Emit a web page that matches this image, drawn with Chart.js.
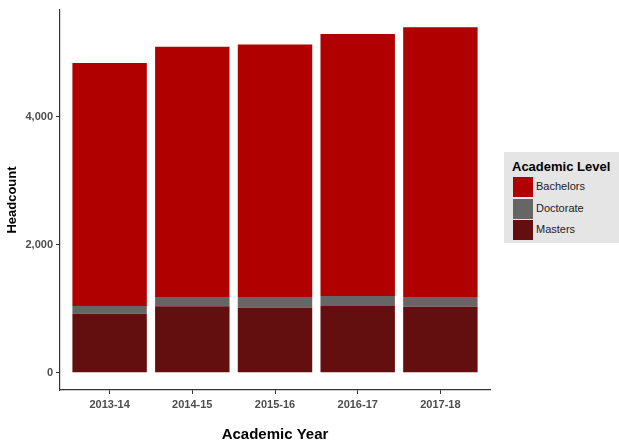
<!DOCTYPE html>
<html>
<head>
<meta charset="utf-8">
<script src="https://cdn.jsdelivr.net/npm/chart.js@4/dist/chart.umd.min.js"></script>
<style>
    body { margin: 0; background: #fff; font-family: "Liberation Sans", Arial, sans-serif; }
    #wrap { position: relative; width: 619px; height: 440px; }
    #legend { position: absolute; left: 504px; top: 152px; width: 115px; height: 91px; background: #e5e5e5; }
    #legend .ttl { position: absolute; left: 8px; top: 7px; font-size: 13px; font-weight: bold; color: #000; white-space: nowrap; }
    #legend .row { position: absolute; left: 9px; height: 20px; }
    #legend .key { position: absolute; left: 0; top: 0; width: 20px; height: 20px; }
    #legend .lbl { position: absolute; left: 23px; top: 3px; font-size: 11px; color: #222; white-space: nowrap; }
</style>
</head>
<body>
<div id="wrap">
    <canvas id="enrollChart" width="619" height="440"></canvas>
    <div id="legend"></div>
</div>
<script>
var years = ["2013-14", "2014-15", "2015-16", "2016-17", "2017-18"];
var masters = [920, 1040, 1020, 1045, 1030];
var doctorate = [125, 145, 165, 155, 155];
var bachelors = [3795, 3910, 3945, 4095, 4215];
var yTicks = [0, 2000, 4000];

var levels = ["Bachelors", "Doctorate", "Masters"];
var levelColors = ["#b00000", "#666666", "#640f0f"];

function toPoints(values) {
    return values.map(function (v, i) { return { x: i, y: v }; });
}

// legend (Bachelors on top, like ggplot)
var legendHtml = '<div class="ttl">Academic Level</div>';
for (var i = 0; i < levels.length; i++) {
    legendHtml += '<div class="row" style="top:' + (25 + i * 21.5) + 'px">' +
        '<div class="key" style="background:' + levelColors[i] + '"></div>' +
        '<div class="lbl">' + levels[i] + '</div></div>';
}
document.getElementById("legend").innerHTML = legendHtml;

// y range with ggplot's 5% expansion
var maxTotal = Math.max.apply(null, years.map(function (y, i) {
    return masters[i] + doctorate[i] + bachelors[i];
}));
var pad = maxTotal * 0.05;

new Chart("enrollChart", {
    type: "bar",
    data: {
        datasets: [
            { label: "Masters", data: toPoints(masters), backgroundColor: levelColors[2] },
            { label: "Doctorate", data: toPoints(doctorate), backgroundColor: levelColors[1] },
            { label: "Bachelors", data: toPoints(bachelors), backgroundColor: levelColors[0] }
        ]
    },
    options: {
        responsive: false,
        animation: false,
        layout: { padding: { top: 10, right: 129, left: 0, bottom: 0 } },
        datasets: { bar: { barPercentage: 0.9, categoryPercentage: 1, borderWidth: 0 } },
        plugins: {
            legend: { display: false },
            tooltip: { enabled: false }
        },
        scales: {
            x: {
                type: "linear",
                stacked: true,
                offset: false,
                min: -0.6,
                max: years.length - 0.4,
                afterBuildTicks: function (s) {
                    s.ticks = years.map(function (y, i) { return { value: i }; });
                },
                afterFit: function (s) { s.height = 50; },
                grid: { offset: false, drawOnChartArea: false, drawTicks: true, tickLength: 4, tickColor: "#333" },
                border: { display: true, color: "#333", width: 1.2 },
                ticks: {
                    autoSkip: false,
                    maxRotation: 0,
                    padding: 4,
                    color: "#4d4d4d",
                    font: { size: 11, weight: "bold", family: "Liberation Sans" },
                    callback: function (v) { return years[v]; }
                },
                title: {
                    display: true,
                    text: "Academic Year",
                    color: "#000",
                    padding: { top: 0, bottom: -4 },
                    font: { size: 15, weight: "bold", family: "Liberation Sans" }
                }
            },
            y: {
                stacked: true,
                min: -pad,
                max: maxTotal + pad,
                afterBuildTicks: function (s) {
                    s.ticks = yTicks.map(function (v) { return { value: v }; });
                },
                afterFit: function (s) { s.width = 60; },
                grid: { drawOnChartArea: false, drawTicks: true, tickLength: 4, tickColor: "#333" },
                border: { display: true, color: "#333", width: 1.2 },
                ticks: {
                    padding: 3,
                    color: "#4d4d4d",
                    font: { size: 11, weight: "bold", family: "Liberation Sans" },
                    callback: function (v) { return v.toLocaleString("en-US"); }
                },
                title: {
                    display: true,
                    text: "Headcount",
                    color: "#000",
                    padding: { top: 5, bottom: 0 },
                    font: { size: 13, weight: "bold", family: "Liberation Sans" }
                }
            }
        }
    }
});
</script>
</body>
</html>
